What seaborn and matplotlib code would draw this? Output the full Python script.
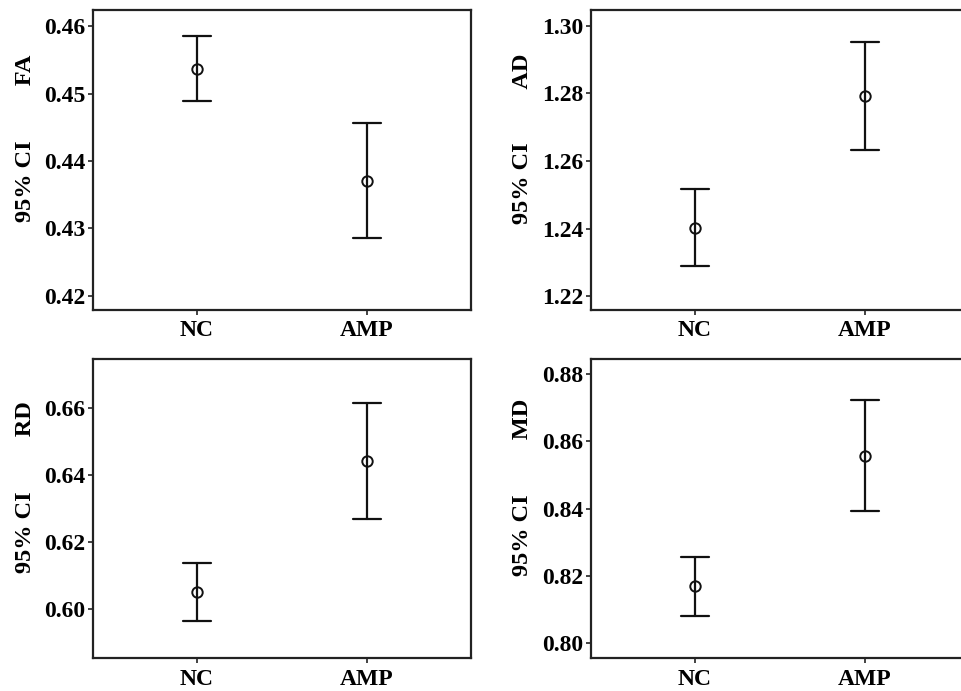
import numpy as np
import pandas as pd
import matplotlib
matplotlib.use("Agg")
import matplotlib.pyplot as plt
import seaborn as sns

# ---- data ----
groups = ["NC", "AMP"]

fa_mean = [0.4536, 0.4370]
fa_lo = [0.4489, 0.4286]
fa_hi = [0.4585, 0.4456]

ad_mean = [1.2402, 1.2792]
ad_lo = [1.2290, 1.2634]
ad_hi = [1.2516, 1.2952]

rd_mean = [0.6051, 0.6441]
rd_lo = [0.5965, 0.6268]
rd_hi = [0.6137, 0.6615]

md_mean = [0.8169, 0.8558]
md_lo = [0.8081, 0.8394]
md_hi = [0.8256, 0.8723]

metrics = ["FA", "AD", "RD", "MD"]
yticks = {
    "FA": [0.42, 0.43, 0.44, 0.45, 0.46],
    "AD": [1.22, 1.24, 1.26, 1.28, 1.30],
    "RD": [0.60, 0.62, 0.64, 0.66],
    "MD": [0.80, 0.82, 0.84, 0.86, 0.88],
}
ylims = {
    "FA": (0.4179, 0.4624),
    "AD": (1.2159, 1.3047),
    "RD": (0.5854, 0.6745),
    "MD": (0.7955, 0.8845),
}
values = {
    "FA": (fa_lo, fa_mean, fa_hi),
    "AD": (ad_lo, ad_mean, ad_hi),
    "RD": (rd_lo, rd_mean, rd_hi),
    "MD": (md_lo, md_mean, md_hi),
}

sns.set_style("ticks")
plt.rcParams["font.family"] = ["Liberation Serif", "DejaVu Serif"]
plt.rcParams["font.weight"] = "bold"
plt.rcParams["text.color"] = "black"
plt.rcParams["axes.labelcolor"] = "black"
plt.rcParams["xtick.color"] = "black"
plt.rcParams["ytick.color"] = "black"

W, H = 961, 691
fig = plt.figure(figsize=(W / 100, H / 100), dpi=100)

# axes boxes in pixel coordinates (left, top, right, bottom)
boxes = {
    "FA": (93, 10, 471, 310),
    "AD": (591, 10, 969, 310),
    "RD": (93, 359, 471, 658.3),
    "MD": (591, 359, 969, 658.3),
}

for m in metrics:
    l, t, r, b = boxes[m]
    ax = fig.add_axes([l / W, 1 - b / H, (r - l) / W, (b - t) / H])
    lo, mean, hi = values[m]
    rows = []
    for g, a, c, d in zip(groups, lo, mean, hi):
        for v in (a, c, d):
            rows.append({"group": g, "value": v})
    df = pd.DataFrame(rows)
    sns.pointplot(
        data=df, x="group", y="value", order=groups,
        estimator="median",
        errorbar=lambda v: (np.min(v), np.max(v)),
        linestyle="none", markers="o", color="#111111",
        capsize=0.165, ax=ax,
        err_kws={"linewidth": 1.6},
        markersize=7.5, markerfacecolor="none", markeredgewidth=1.4,
        linewidth=1.6,
    )
    for line in ax.lines:
        if line.get_marker() == "o":
            line.set_markerfacecolor("none")
    ax.set_xlim(-0.611, 1.611)
    ax.set_ylim(*ylims[m])
    ax.set_yticks(yticks[m])
    ax.set_yticklabels([f"{v:.2f}" for v in yticks[m]])
    ax.set_xlabel("")
    ax.set_ylabel("95% CI" + " " * 9 + m, fontsize=17.5, fontweight="bold")
    ax.yaxis.label.set_va("center")
    ax.yaxis.set_label_coords(-68 / 378, 0.572)
    ax.tick_params(axis="both", which="both", direction="out", length=3.5,
                   width=1.2, color="#222222", labelsize=17, pad=2,
                   left=True, bottom=True, top=False, right=False)
    ax.tick_params(axis="x", pad=4)
    for lab in ax.get_xticklabels() + ax.get_yticklabels():
        lab.set_fontweight("bold")
    for sp in ax.spines.values():
        sp.set_visible(True)
        sp.set_linewidth(1.6)
        sp.set_color("#222222")

fig.savefig("out.png", dpi=100)
